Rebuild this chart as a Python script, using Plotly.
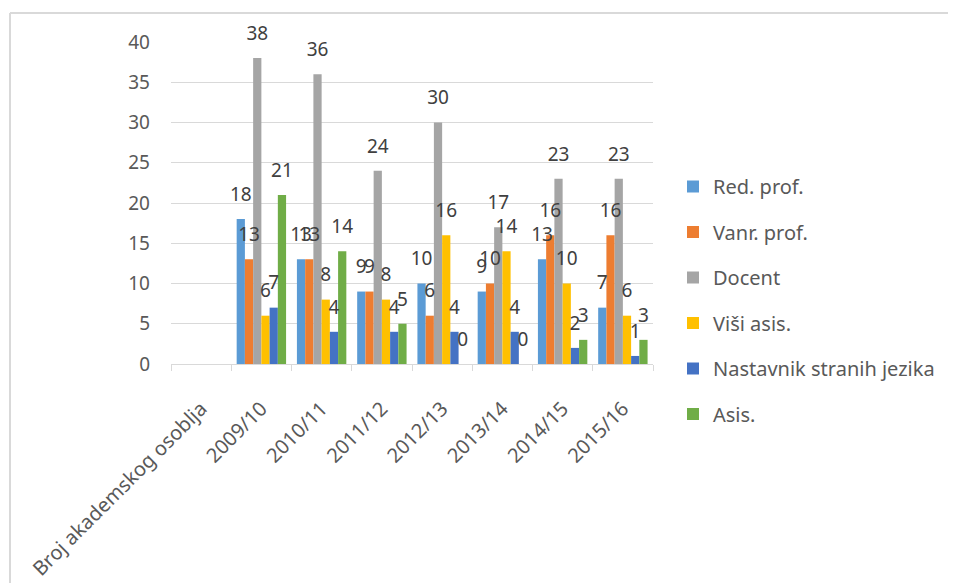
import plotly.graph_objects as go

categories = ["Broj akademskog osoblja", "2009/10", "2010/11", "2011/12", "2012/13", "2013/14", "2014/15", "2015/16"]
red_prof = [None, 18, 13, 9, 10, 9, 13, 7]
vanr_prof = [None, 13, 13, 9, 6, 10, 16, 16]
docent = [None, 38, 36, 24, 30, 17, 23, 23]
visi_asis = [None, 6, 8, 8, 16, 14, 10, 6]
nastavnik = [None, 7, 4, 4, 4, 4, 2, 1]
asis = [None, 21, 14, 5, 0, 0, 3, 3]

series = [
    ("Red. prof.", red_prof, "#5B9BD5"),
    ("Vanr. prof.", vanr_prof, "#ED7D31"),
    ("Docent", docent, "#A5A5A5"),
    ("Viši asis.", visi_asis, "#FFC000"),
    ("Nastavnik stranih jezika", nastavnik, "#4472C4"),
    ("Asis.", asis, "#70AD47"),
]

FONT = "Noto Sans"
fig = go.Figure()
for i, (name, vals, col) in enumerate(series):
    fig.add_trace(go.Bar(
        x=categories, y=vals, name=name, marker_color=col,
        marker_line_width=0, legendgroup=f"g{i}",
        offsetgroup=f"o{i}",
    ))
for i, (name, vals, col) in enumerate(series):
    fig.add_trace(go.Scatter(
        x=categories, y=vals, name=name, mode="markers+text",
        marker=dict(size=20, color="rgba(0,0,0,0)"),
        text=[("" if v is None else str(v)) for v in vals],
        textposition="top center", cliponaxis=False,
        textfont=dict(family=FONT, size=19, color="#404040"),
        showlegend=False, hoverinfo="skip",
        offsetgroup=f"o{i}",
    ))

# screen offset of the figure inside the page (body margin)
OFF = 8
W, H = 956 - OFF, 583 - OFF
L, R, T, B = 171 - OFF, 956 - 653, 42 - OFF, 583 - 364
pw, ph = W - L - R, H - T - B

def px_x(p):
    return (p - OFF - L) / pw

def px_y(p):
    return (H - B - (p - OFF)) / ph

fig.update_layout(
    width=W, height=H,
    margin=dict(l=L, r=R, t=T, b=B, autoexpand=False),
    paper_bgcolor="white", plot_bgcolor="white",
    barmode="group", bargap=0.18, bargroupgap=0,
    scattermode="group", scattergap=0.18,
    font=dict(family=FONT, color="#595959"),
    showlegend=True,
    legend=dict(
        x=px_x(673), y=px_y(167), xanchor="left", yanchor="top",
        font=dict(family=FONT, size=20, color="#595959"),
        tracegroupgap=16.5, itemwidth=30,
        bgcolor="rgba(0,0,0,0)",
    ),
    xaxis=dict(
        type="category", tickangle=-45, tickson="boundaries",
        ticks="outside", ticklen=6, tickcolor="#d9d9d9",
        showline=True, linecolor="#d9d9d9", linewidth=1,
        showgrid=False,
        tickfont=dict(family=FONT, size=20, color="#595959"),
        ticklabelstandoff=24,
    ),
    yaxis=dict(
        range=[0, 40], dtick=5, showgrid=True, gridcolor="#d9d9d9", gridwidth=1,
        zeroline=False, showline=False, ticks="",
        tickfont=dict(family=FONT, size=19, color="#595959"),
        ticklabelstandoff=20,
    ),
    shapes=[
        dict(type="line", xref="paper", yref="paper",
             x0=px_x(10), x1=px_x(956), y0=px_y(13), y1=px_y(13),
             line=dict(color="#d9d9d9", width=2)),
        dict(type="line", xref="paper", yref="paper",
             x0=px_x(10), x1=px_x(10), y0=px_y(13), y1=px_y(583),
             line=dict(color="#d9d9d9", width=2)),
    ],
)

fig.write_html("out.html", config={"displayModeBar": False})
